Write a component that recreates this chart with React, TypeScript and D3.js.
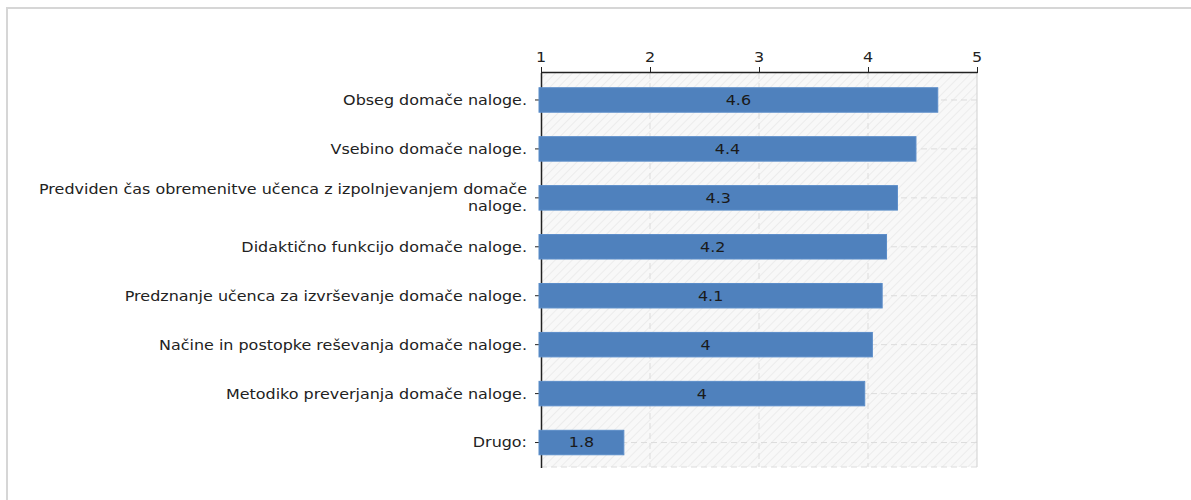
import React from "react";
import * as d3 from "d3";

const categories: string[][] = [
  ["Obseg domače naloge."],
  ["Vsebino domače naloge."],
  ["Predviden čas obremenitve učenca z izpolnjevanjem domače", "naloge."],
  ["Didaktično funkcijo domače naloge."],
  ["Predznanje učenca za izvrševanje domače naloge."],
  ["Načine in postopke reševanja domače naloge."],
  ["Metodiko preverjanja domače naloge."],
  ["Drugo:"],
];
const values: number[] = [4.64, 4.44, 4.27, 4.17, 4.13, 4.04, 3.97, 1.76];
const xTicks: number[] = [1, 2, 3, 4, 5];

const W = 1191;
const H = 500;
const L = 541;
const R = 977;
const T = 73;
const B = 467;
const FONT = "'DejaVu Sans', Verdana, sans-serif";
const FS = 14;
const SX = 1.14;

function Txt(props: { x: number; y: number; anchor: string; children: React.ReactNode; fill?: string; dy?: string }) {
  return (
    <text
      transform={`translate(${props.x},${props.y}) scale(${SX},1)`}
      dy={props.dy ?? "0.35em"}
      textAnchor={props.anchor}
      fontSize={FS}
      fill={props.fill ?? "#222"}
    >
      {props.children}
    </text>
  );
}

export default function App() {
  const x = d3.scaleLinear().domain([1, 5]).range([L, R]);
  const ids = categories.map((_, i) => String(i));
  const y = d3.scaleBand<string>().domain(ids).range([T + 2.5, B]).paddingInner(0.5).paddingOuter(0.25);
  const fmt = (v: number) => d3.format(".1f")(v).replace(/\.0$/, "");

  return (
    <svg width={W} height={H} style={{ position: "absolute", left: 0, top: 0 }} fontFamily={FONT}>
      <defs>
        <pattern id="hatch" patternUnits="userSpaceOnUse" width="6" height="6" patternTransform="rotate(45)">
          <rect width="6" height="6" fill="#f8f8f8" />
          <line x1="0" y1="0" x2="0" y2="6" stroke="#e8e8e8" strokeWidth="1.5" />
        </pattern>
      </defs>
      <rect width={W} height={H} fill="#fff" />
      <rect x={7} y={8} width={W + 20} height={H + 20} fill="none" stroke="#d6d6d6" strokeWidth={2} />
      <rect x={L} y={T} width={R - L} height={B - T} fill="url(#hatch)" />
      {xTicks.slice(1, -1).map((t) => (
        <line key={"vg" + t} x1={x(t)} x2={x(t)} y1={T} y2={B} stroke="#dcdcdc" strokeDasharray="6,4" />
      ))}
      {ids.map((id) => {
        const cy = (y(id) as number) + y.bandwidth() / 2;
        return <line key={"hg" + id} x1={L} x2={R} y1={cy} y2={cy} stroke="#dcdcdc" strokeDasharray="6,4" />;
      })}
      <line x1={R} x2={R} y1={T} y2={B} stroke="#d0d0d0" />
      <line x1={L} x2={R} y1={B} y2={B} stroke="#dcdcdc" strokeDasharray="6,4" />
      <line x1={L + 0.5} x2={L + 0.5} y1={T} y2={B + 1} stroke="#222" strokeWidth={1.5} />
      {ids.map((id, i) => {
        const cy = (y(id) as number) + y.bandwidth() / 2;
        const lines = categories[i];
        const lh = 17;
        return (
          <g key={"yl" + id}>
            <line x1={L - 6} x2={L} y1={cy} y2={cy} stroke="#222" />
            {lines.map((ln, j) => (
              <Txt key={j} x={L - 14} y={cy + (j - (lines.length - 1) / 2) * lh} anchor="end">
                {ln}
              </Txt>
            ))}
          </g>
        );
      })}
      {values.map((v, i) => {
        const by = y(ids[i]) as number;
        const x0 = x(1) - 2;
        const x1 = x(v);
        return (
          <g key={"b" + i}>
            <rect x={x0} y={by} width={x1 - x0} height={y.bandwidth()} fill="#4f81bd" stroke="#5b8dc9" strokeWidth={1} />
            <Txt x={(x0 + x1) / 2} y={by + y.bandwidth() / 2} anchor="middle" fill="#1a1a1a">
              {fmt(v)}
            </Txt>
          </g>
        );
      })}
      <line x1={L} x2={R + 0.5} y1={T - 0.5} y2={T - 0.5} stroke="#222" strokeWidth={1.5} />
      {xTicks.map((t) => (
        <g key={"xt" + t}>
          <line x1={x(t) + 0.5} x2={x(t) + 0.5} y1={T - 6} y2={T} stroke="#222" />
          <Txt x={x(t)} y={T - 11} anchor="middle" dy="0">
            {t}
          </Txt>
        </g>
      ))}
    </svg>
  );
}
